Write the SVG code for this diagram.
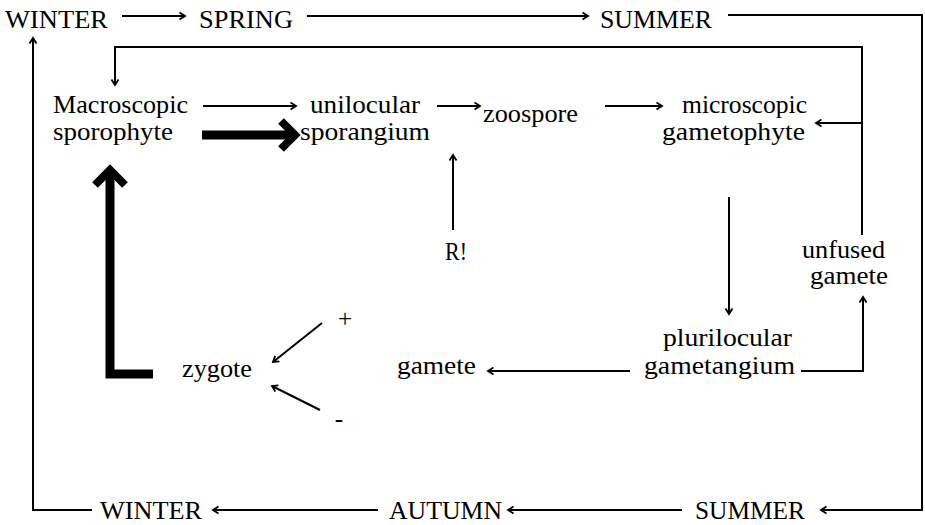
<svg xmlns="http://www.w3.org/2000/svg" width="925" height="525" viewBox="0 0 925 525">
<style>
text{font-family:"Liberation Serif","Times New Roman","DejaVu Serif",serif;font-size:25px;fill:#000}
.c{fill:none;stroke:#000;stroke-width:2}
.t{fill:none;stroke:#000;stroke-width:9;stroke-linejoin:miter;stroke-linecap:butt}
</style>
<defs>
<marker id="a" markerUnits="userSpaceOnUse" markerWidth="10" markerHeight="10" refX="6" refY="4" orient="auto" viewBox="0 0 10 8">
<path d="M0.5,0.5 L6,4 L0.5,7.5" fill="none" stroke="#000" stroke-width="1.8"/>
</marker>
</defs>
<g id="winter-top"><text x="5" y="28" textLength="103" lengthAdjust="spacingAndGlyphs">WINTER</text></g>
<g id="spring"><text x="199" y="28" textLength="94" lengthAdjust="spacingAndGlyphs">SPRING</text></g>
<g id="summer-top"><text x="600" y="28" textLength="112" lengthAdjust="spacingAndGlyphs">SUMMER</text></g>
<g id="winter-bottom"><text x="100" y="519" textLength="102" lengthAdjust="spacingAndGlyphs">WINTER</text></g>
<g id="autumn"><text x="389" y="519" textLength="113" lengthAdjust="spacingAndGlyphs">AUTUMN</text></g>
<g id="summer-bottom"><text x="695" y="519" textLength="110" lengthAdjust="spacingAndGlyphs">SUMMER</text></g>
<g id="sporophyte">
<text x="53" y="113" textLength="135" lengthAdjust="spacingAndGlyphs">Macroscopic</text>
<text x="53" y="140" textLength="120" lengthAdjust="spacingAndGlyphs">sporophyte</text>
</g>
<g id="sporangium">
<text x="310" y="113" textLength="110" lengthAdjust="spacingAndGlyphs">unilocular</text>
<text x="300" y="140" textLength="130" lengthAdjust="spacingAndGlyphs">sporangium</text>
</g>
<g id="zoospore"><text x="483" y="122" textLength="95" lengthAdjust="spacingAndGlyphs">zoospore</text></g>
<g id="gametophyte">
<text x="682" y="113" textLength="125" lengthAdjust="spacingAndGlyphs">microscopic</text>
<text x="662" y="140" textLength="143" lengthAdjust="spacingAndGlyphs">gametophyte</text>
</g>
<g id="r"><text x="445" y="260" textLength="22" lengthAdjust="spacingAndGlyphs">R!</text></g>
<g id="unfused">
<text x="802" y="258" textLength="83" lengthAdjust="spacingAndGlyphs">unfused</text>
<text x="810" y="284" textLength="78" lengthAdjust="spacingAndGlyphs">gamete</text>
</g>
<g id="gametangium">
<text x="663" y="346" textLength="129" lengthAdjust="spacingAndGlyphs">plurilocular</text>
<text x="644" y="374" textLength="151" lengthAdjust="spacingAndGlyphs">gametangium</text>
</g>
<g id="gamete"><text x="397" y="374" textLength="79" lengthAdjust="spacingAndGlyphs">gamete</text></g>
<g id="zygote"><text x="182" y="377" textLength="70" lengthAdjust="spacingAndGlyphs">zygote</text></g>
<g id="plus"><text x="345" y="327" text-anchor="middle">+</text></g>
<g id="minus"><text x="339" y="427" text-anchor="middle">-</text></g>
<g id="connectors">
<line class="c" x1="122" y1="16" x2="185" y2="16" marker-end="url(#a)"/>
<line class="c" x1="307" y1="16" x2="588" y2="16" marker-end="url(#a)"/>
<polyline class="c" points="728,15 922,15 922,510 821,510" marker-end="url(#a)"/>
<polyline class="c" points="92,510 33,510 33,38" marker-end="url(#a)"/>
<line class="c" x1="378" y1="510" x2="213" y2="510" marker-end="url(#a)"/>
<line class="c" x1="682" y1="510" x2="508" y2="510" marker-end="url(#a)"/>
<polyline class="c" points="862,235 862,47 115,47 115,85" marker-end="url(#a)"/>
<line class="c" x1="862" y1="123" x2="816" y2="123" marker-end="url(#a)"/>
<line class="c" x1="203" y1="106" x2="296" y2="106" marker-end="url(#a)"/>
<line class="c" x1="437" y1="106" x2="480" y2="106" marker-end="url(#a)"/>
<line class="c" x1="605" y1="106" x2="662" y2="106" marker-end="url(#a)"/>
<line class="c" x1="453" y1="230" x2="453" y2="155" marker-end="url(#a)"/>
<line class="c" x1="729" y1="197" x2="729" y2="314" marker-end="url(#a)"/>
<line class="c" x1="630" y1="371" x2="488" y2="371" marker-end="url(#a)"/>
<polyline class="c" points="801,371 863,371 863,297" marker-end="url(#a)"/>
<line class="c" x1="322" y1="323" x2="273" y2="362" marker-end="url(#a)"/>
<line class="c" x1="320" y1="410" x2="272" y2="386" marker-end="url(#a)"/>
<line class="t" x1="202" y1="135" x2="292" y2="135"/>
<polyline class="t" style="stroke-width:8" points="281,121 295,135 281,149"/>
<polyline class="t" points="153,374 110,374 110,174"/>
<polyline class="t" style="stroke-width:8" points="95,185 110,170 125,185"/>
</g>
</svg>
